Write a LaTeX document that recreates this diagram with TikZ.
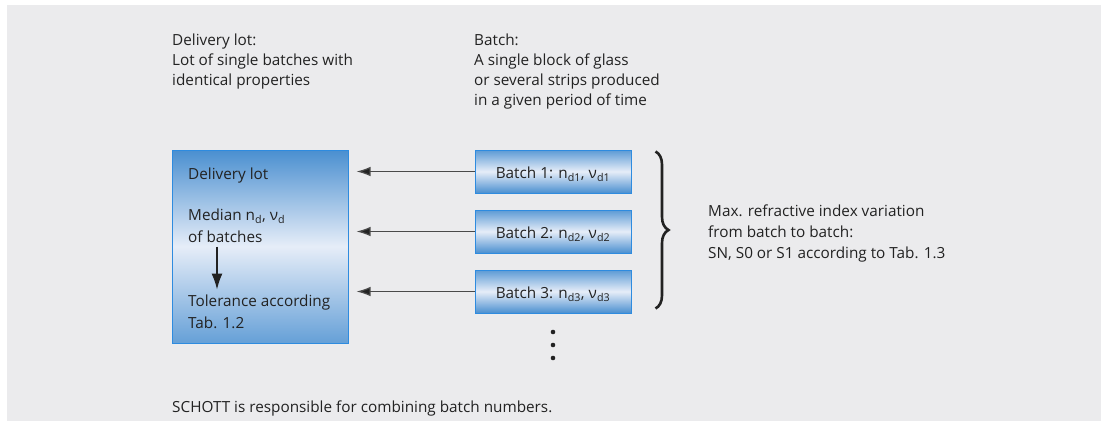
\documentclass[tikz,border=0pt]{standalone}
\usepackage{fontspec}
\setmainfont{Open Sans}
\usetikzlibrary{arrows.meta,decorations.pathreplacing}

\definecolor{bggray}{HTML}{EBEBED}
\definecolor{boxblue}{HTML}{4A8FD0}
\definecolor{boxlight}{HTML}{E6EDF8}
\definecolor{boxedge}{HTML}{2E8BDF}
\definecolor{txtgray}{HTML}{222222}
\definecolor{shaftgray}{HTML}{4A4A4A}

\tikzset{
  every node/.style={text=txtgray,font=\fontsize{15.3}{20}\selectfont},
  lotbox/.style={draw=boxedge,line width=1pt,top color=boxblue,bottom color=boxblue!85!white,
    middle color=boxlight,minimum width=176pt,minimum height=193pt,inner sep=0pt},
  batchbox/.style={draw=boxedge,line width=1pt,top color=boxblue!90!white,bottom color=boxblue,
    middle color=boxlight,minimum width=156pt,minimum height=43pt,inner sep=0pt,
    text height=14pt,text depth=0pt},
  notetext/.style={align=left,inner sep=0pt},
  lottext/.style={align=left,inner sep=0pt,font=\fontsize{15.3}{22}\selectfont},
  pointer/.style={-{Latex[length=14pt,width=9.5pt,fill=txtgray]},line width=1.2pt,draw=shaftgray},
  bigpointer/.style={-{Latex[length=16pt,width=11pt]},line width=1.3pt,draw=txtgray},
  bigbrace/.style={decorate,decoration={brace,amplitude=13pt},line width=2.6pt,draw=txtgray}
}

\begin{document}
\begin{tikzpicture}[x=1pt,y=-1pt]
    \useasboundingbox (0,0) rectangle (1101,421);
    \fill[bggray] (7,5) rectangle (1101,421);

    % headings
    \node[notetext,anchor=north west] (lothead) at (172,34) {Delivery lot:\\Lot of single batches with\\identical properties};
    \node[notetext,anchor=north west] (batchhead) at (474,34) {Batch:\\A single block of glass\\or several strips produced\\in a given period of time};

    % delivery lot
    \node[lotbox] (lot) at (260,246.5) {};
    \node[lottext,anchor=west] (lottitle) at (188,176) {Delivery lot};
    \node[lottext,anchor=north west] (median) at (188,208.5) {Median n\textsubscript{d}, ν\textsubscript{d}\\of batches};
    \node[lottext,anchor=north west] (tol) at (188,294.5) {Tolerance according\\Tab. 1.2};
    \draw[bigpointer] ([xshift=29pt,yshift=-4pt]median.south west) -- ([xshift=29pt,yshift=5pt]tol.north west);

    % batches
    \node[batchbox] (b1) at (553,171.5) {Batch 1: n\textsubscript{d1}, ν\textsubscript{d1}};
    \node[batchbox] (b2) at (553,231.5) {Batch 2: n\textsubscript{d2}, ν\textsubscript{d2}};
    \node[batchbox] (b3) at (553,291.5) {Batch 3: n\textsubscript{d3}, ν\textsubscript{d3}};
    \foreach \b in {b1,b2,b3}
        \draw[pointer] (\b.west) -- ([xshift=8pt]\b.west -| lot.east);
    \foreach \y in {332,345,358}
        \fill[txtgray] (553,\y) circle (2.3pt);

    % variation
    \draw[bigbrace] ([xshift=24pt,yshift=-2pt]b1.north east) -- ([xshift=24pt,yshift=5pt]b3.south east);
    \node[notetext,anchor=west,font=\fontsize{15.3}{21}\selectfont] (variation) at (708,233) {Max. refractive index variation\\from batch to batch:\\SN, S0 or S1 according to Tab. 1.3};

    \node[notetext,anchor=west] (footer) at (172,408) {SCHOTT is responsible for combining batch numbers.};
\end{tikzpicture}
\end{document}
